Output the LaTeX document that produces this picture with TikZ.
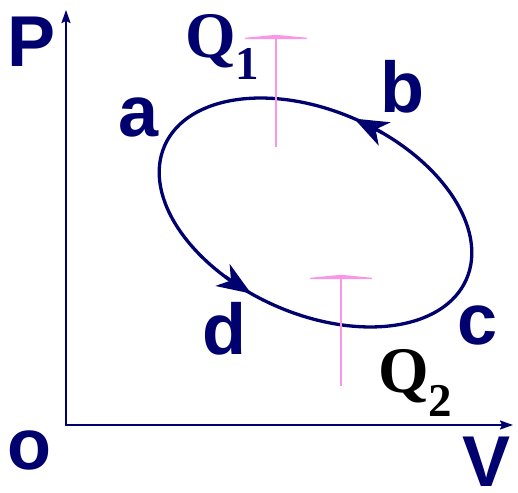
\documentclass[tikz,border=0pt]{standalone}
\usepackage{fontspec}
\setmainfont{Liberation Serif}
\setsansfont{Liberation Sans}
\usetikzlibrary{arrows.meta,calc}
\definecolor{navy}{RGB}{0,0,110}
\definecolor{pinkq}{RGB}{250,150,230}
\begin{document}
\begin{tikzpicture}[x=1pt,y=1pt,
  axis/.style={navy, line width=2pt, {Stealth[length=13pt,width=9pt,inset=2pt]}-{Stealth[length=13pt,width=9pt,inset=2pt]}},
  cyc/.style={navy, line width=3.3pt},
  cycarrow/.style={cyc, -{Stealth[length=34pt,width=26pt,inset=10pt]}},
  heat/.style={pinkq, line width=2pt},
  heathead/.style={fill=pinkq},
  lbl/.style={font=\sffamily\bfseries\fontsize{72}{72}\selectfont, text=navy, inner sep=0pt, anchor=base},
  qlbl/.style={font=\rmfamily\bfseries\fontsize{65}{65}\selectfont, inner sep=0pt, anchor=base west}]
\useasboundingbox (0,0) rectangle (518,492);
% axes
\coordinate (O) at (66,67);
\coordinate (Ptip) at (66,482);
\coordinate (Vtip) at (513,67);
\draw[axis] (Ptip) -- (O) -- (Vtip);
% cycle
\begin{scope}[shift={(315.5,279.5)}, rotate=-24]
  \draw[cyc] (0,0) ellipse [x radius=165pt, y radius=101.5pt];
  \coordinate (bt) at (91:165pt and 101.5pt);
  \coordinate (bb) at (80:165pt and 101.5pt);
  \coordinate (dt) at (261:165pt and 101.5pt);
  \coordinate (db) at (250:165pt and 101.5pt);
\end{scope}
\draw[cycarrow] (bb) -- (bt);
\draw[cycarrow] (db) -- (dt);
% heat arrows
\coordinate (q1s) at (276,345);
\coordinate (q1e) at (276,456);
\coordinate (q2s) at (341,106);
\coordinate (q2e) at (341,216);
\draw[heat] (q1s) -- (q1e);
\draw[heat] (q2s) -- (q2e);
\foreach \h in {q1e,q2e}{
  \fill[heathead] ($(\h)+(0,1.2)$) -- ($(\h)+(31,-1.8)$) -- ($(\h)+(31,-3.2)$)
     -- ($(\h)+(-31,-3.2)$) -- ($(\h)+(-31,-1.8)$) -- cycle;
}
% labels
\node[lbl] (Pl) at (32,425) {P};
\node[lbl] (al) at (139,355) {a};
\node[lbl] (bl) at (402,379) {b};
\node[lbl] (cl) at (478,147) {c};
\node[lbl] (dl) at (224,137) {d};
\node[lbl] (ol) at (29,23) {o};
\node[lbl] (Vl) at (487,6) {V};
\node[qlbl, text=navy] (Q1) at (185,434) {Q\raisebox{-22pt}{\fontsize{47}{47}\selectfont 1}};
\node[qlbl, text=black] (Q2) at (378,100) {Q\raisebox{-25pt}{\fontsize{47}{47}\selectfont 2}};
\end{tikzpicture}
\end{document}
